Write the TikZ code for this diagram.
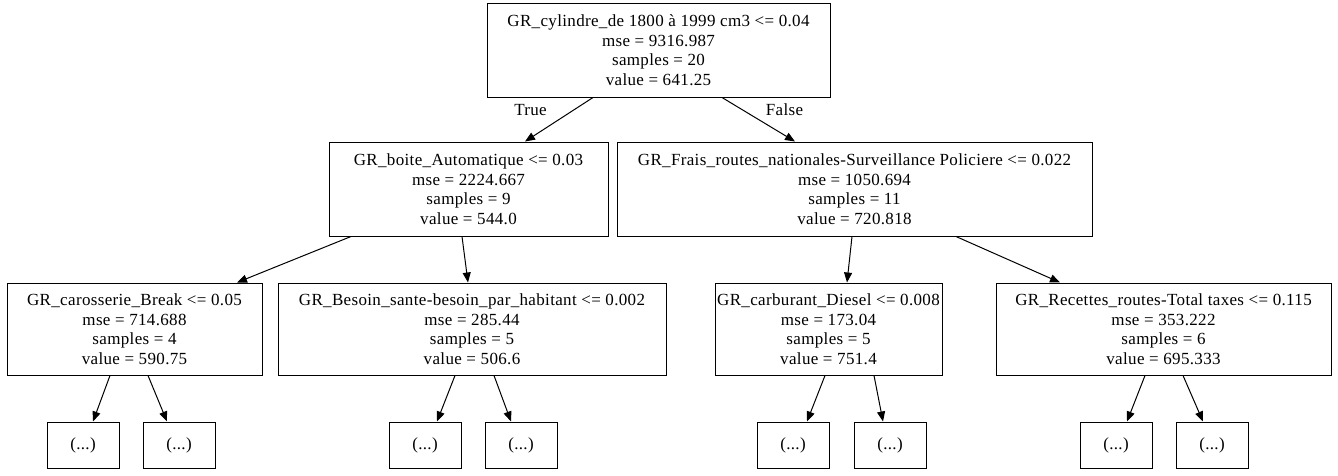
\documentclass[tikz,border=0pt]{standalone}
\usepackage{fontspec}
\setmainfont{Liberation Serif}[LetterSpace=2]
\usetikzlibrary{arrows.meta}
\begin{document}
\begin{tikzpicture}[x=1pt,y=-1pt,
  box/.style={draw,line width=1pt,align=center,inner sep=0pt,font=\fontsize{17}{19.5}\selectfont},
  leaf/.style={draw,line width=1pt,inner sep=0pt,minimum width=72pt,minimum height=46pt,font=\fontsize{17}{19.5}\selectfont},
  edge/.style={line width=1pt,-{Triangle[length=10pt,width=8pt]}},
  lbl/.style={font=\fontsize{17}{19.5}\selectfont,inner sep=0pt}]
\useasboundingbox (0,0) rectangle (1338,475);
\node[box,minimum width=343pt,minimum height=94pt] (root) at (658.5,50) {GR\_cylindre\_de 1800 à 1999 cm3 <= 0.04\\mse = 9316.987\\samples = 20\\value = 641.25};
\node[box,minimum width=279pt,minimum height=94pt] (l) at (468.5,189) {GR\_boite\_Automatique <= 0.03\\mse = 2224.667\\samples = 9\\value = 544.0};
\node[box,minimum width=475pt,minimum height=94pt] (r) at (854.5,189) {GR\_Frais\_routes\_nationales-Surveillance Policiere <= 0.022\\mse = 1050.694\\samples = 11\\value = 720.818};
\node[box,minimum width=255pt,minimum height=92pt] (a) at (134.5,329) {GR\_carosserie\_Break <= 0.05\\mse = 714.688\\samples = 4\\value = 590.75};
\node[box,minimum width=388pt,minimum height=92pt] (b) at (472,329) {GR\_Besoin\_sante-besoin\_par\_habitant <= 0.002\\mse = 285.44\\samples = 5\\value = 506.6};
\node[box,minimum width=227pt,minimum height=92pt] (c) at (828.5,329) {GR\_carburant\_Diesel <= 0.008\\mse = 173.04\\samples = 5\\value = 751.4};
\node[box,minimum width=335pt,minimum height=92pt] (d) at (1163.5,329) {GR\_Recettes\_routes-Total taxes <= 0.115\\mse = 353.222\\samples = 6\\value = 695.333};
\node[leaf] (a1) at (83,445) {(...)};
\node[leaf] (a2) at (179,445) {(...)};
\node[leaf] (b1) at (425,445) {(...)};
\node[leaf] (b2) at (521,445) {(...)};
\node[leaf] (c1) at (793,445) {(...)};
\node[leaf] (c2) at (890,445) {(...)};
\node[leaf] (d1) at (1116,445) {(...)};
\node[leaf] (d2) at (1212,445) {(...)};
\draw[edge] (root.south -| 593,0) -- (l.north -| 525,0);
\draw[edge] (root.south -| 722,0) -- (r.north -| 795,0);
\draw[edge] (l.south -| 351,0) -- (a.north -| 237,0);
\draw[edge] (l.south -| 462,0) -- (b.north -| 468,0);
\draw[edge] (r.south -| 852,0) -- (c.north -| 847,0);
\draw[edge] (r.south -| 956,0) -- (d.north -| 1060,0);
\draw[edge] (a.south -| 110,0) -- (a1.north -| 93,0);
\draw[edge] (a.south -| 148,0) -- (a2.north -| 167,0);
\draw[edge] (b.south -| 455,0) -- (b1.north -| 437,0);
\draw[edge] (b.south -| 494,0) -- (b2.north -| 511,0);
\draw[edge] (c.south -| 825,0) -- (c1.north -| 807,0);
\draw[edge] (c.south -| 874,0) -- (c2.north -| 883,0);
\draw[edge] (d.south -| 1145,0) -- (d1.north -| 1127,0);
\draw[edge] (d.south -| 1183,0) -- (d2.north -| 1203,0);
\node[lbl] (t) at (530.5,110) {True};
\node[lbl] (f) at (784.5,110) {False};
\end{tikzpicture}
\end{document}
